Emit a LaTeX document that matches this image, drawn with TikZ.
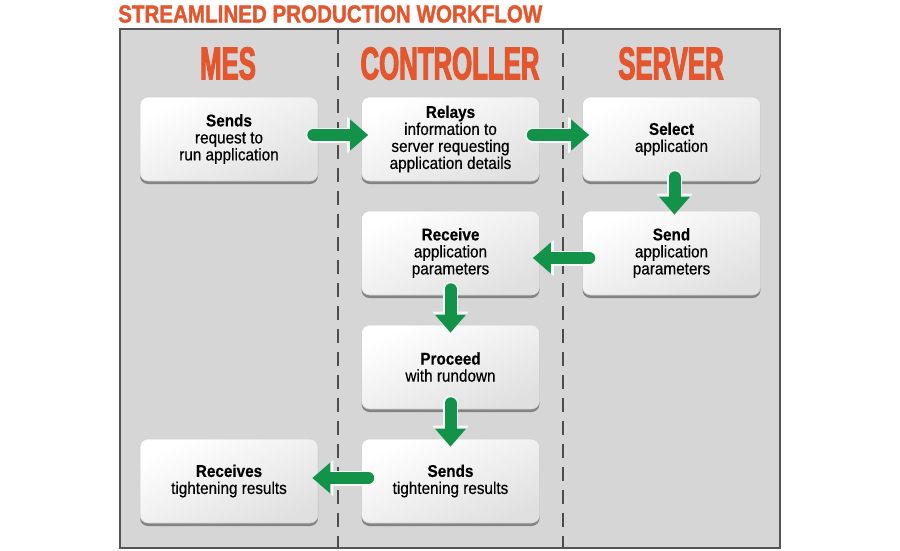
\documentclass[tikz,border=0pt]{standalone}
\usepackage{fontspec}
\setmainfont{Liberation Sans}
\newfontfamily\boxfont{Liberation Sans}[FakeStretch=0.9,FakeBold=0.4]
\newfontfamily\titlefont{Liberation Sans}[FakeStretch=0.84,FakeBold=1.6]
\newfontfamily\headfont{Liberation Sans}[FakeStretch=0.56,FakeBold=2.2]
\usetikzlibrary{arrows.meta,shadows}
\definecolor{orng}{HTML}{E4572E}
\definecolor{arrgreen}{HTML}{13934A}
\definecolor{panelgrey}{HTML}{D6D6D6}
\definecolor{bordergrey}{HTML}{555555}
\tikzset{
  stepbox/.style={rectangle, rounded corners=8pt, minimum width=178pt, minimum height=84pt,
    inner sep=0pt, align=center, draw=black!18, line width=0.6pt,
    shading=axis, top color=white, bottom color=black!12, shading angle=25,
    drop shadow={shadow xshift=0pt, shadow yshift=-3pt, opacity=0.6, fill=black!70},
    font=\boxfont\fontsize{17}{17}\selectfont},
  flowarrow/.style={line width=12pt, draw=arrgreen, line cap=round,
    -{Triangle[length=18pt,width=30pt]},
    preaction={draw=white!80!panelgrey, line width=15pt, line cap=round,
      -{Triangle[length=21pt,width=35pt]}}},
  header/.style={text=orng, font=\headfont\bfseries\fontsize{46}{46}\selectfont, inner sep=0pt},
  divider/.style={draw=black!70, line width=2pt, dash pattern=on 14pt off 9pt}
}
\begin{document}
\begin{tikzpicture}[x=1pt,y=-1pt]
\useasboundingbox (0,0) rectangle (900,550);
% title
\node[anchor=west, text=orng, font=\titlefont\bfseries\fontsize{24.5}{25}\selectfont, inner sep=0pt]
  (title) at (118,14) {STREAMLINED PRODUCTION WORKFLOW};
% panel
\draw[fill=panelgrey, draw=bordergrey, line width=2pt] (120,29) rectangle (780,548);
\coordinate (d1t) at (338,30);
\coordinate (d1b) at (338,547);
\coordinate (d2t) at (563,30);
\coordinate (d2b) at (563,547);
\draw[divider] (d1t) -- (d1b);
\draw[divider] (d2t) -- (d2b);
% headers
\node[header] (hmes) at (228,63.5) {MES};
\node[header] (hctrl) at (450,63.5) {CONTROLLER};
\node[header] (hsrv) at (671,63.5) {SERVER};
% boxes
\node[stepbox] (mes1) at (229,139) {{\bfseries Sends}\\request to\\run application};
\node[stepbox] (ctrl1) at (450.5,139) {{\bfseries Relays}\\information to\\server requesting\\application details};
\node[stepbox] (srv1) at (671.5,139) {{\bfseries Select}\\application};
\node[stepbox] (srv2) at (671.5,253) {{\bfseries Send}\\application\\parameters};
\node[stepbox] (ctrl2) at (450.5,253) {{\bfseries Receive}\\application\\parameters};
\node[stepbox] (ctrl3) at (450.5,367) {{\bfseries Proceed}\\with rundown};
\node[stepbox] (ctrl4) at (450.5,481) {{\bfseries Sends}\\tightening results};
\node[stepbox] (mes2) at (229,481) {{\bfseries Receives}\\tightening results};
% arrows
\draw[flowarrow, shorten <=-5pt, shorten >=-7pt] ([yshift=4pt]mes1.east) -- ([yshift=4pt]ctrl1.west);
\draw[flowarrow, shorten <=-7pt, shorten >=-7pt] ([yshift=4pt]ctrl1.east) -- ([yshift=4pt]srv1.west);
\draw[flowarrow, shorten <=-4pt, shorten >=-4pt] ([xshift=3pt]srv1.south) -- ([xshift=3pt]srv2.north);
\draw[flowarrow, shorten <=-7pt, shorten >=-7pt] ([yshift=-5pt]srv2.west) -- ([yshift=-5pt]ctrl2.east);
\draw[flowarrow, shorten <=-6pt, shorten >=-8pt] (ctrl2.south) -- (ctrl3.north);
\draw[flowarrow, shorten <=-6pt, shorten >=-8pt] (ctrl3.south) -- (ctrl4.north);
\draw[flowarrow, shorten <=-7pt, shorten >=-6pt] ([yshift=3pt]ctrl4.west) -- ([yshift=3pt]mes2.east);
\end{tikzpicture}
\end{document}
